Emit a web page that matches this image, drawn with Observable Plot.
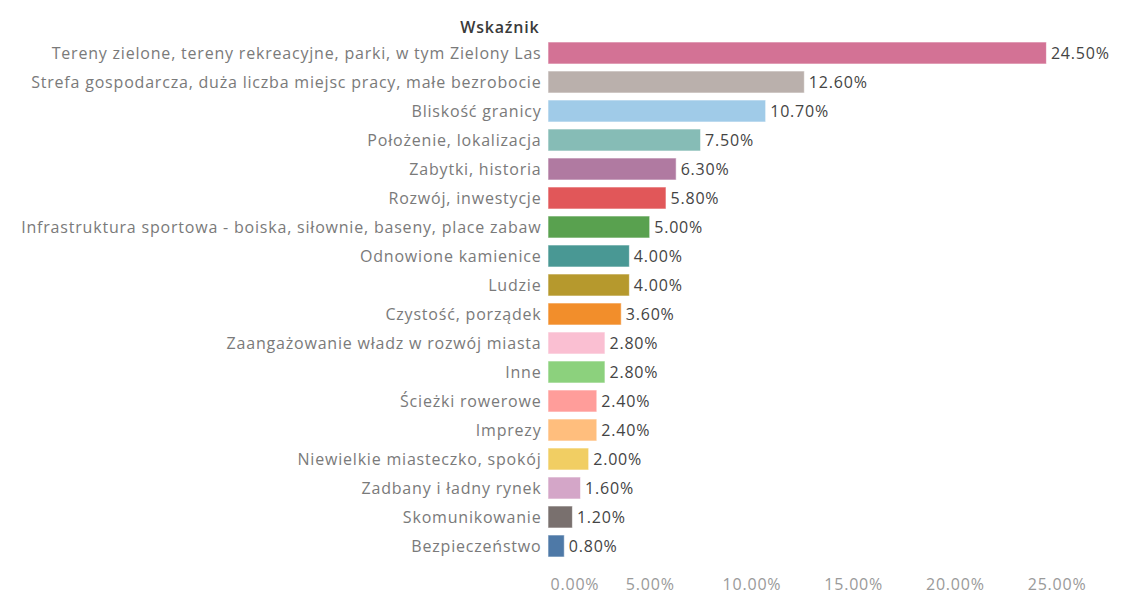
<!DOCTYPE html>
<html>
<head>
<meta charset="utf-8">
<script src="https://cdn.jsdelivr.net/npm/d3@7"></script>
<script src="https://cdn.jsdelivr.net/npm/@observablehq/plot@0.6"></script>
<style>
  html, body { margin: 0; padding: 0; background: #fff; }
  #chart svg { display: block; }
  #chart svg text { letter-spacing: 0.8px; }
</style>
</head>
<body>
<div id="chart"></div>
<script>
const categories = [
  "Tereny zielone, tereny rekreacyjne, parki, w tym Zielony Las",
  "Strefa gospodarcza, duża liczba miejsc pracy, małe bezrobocie",
  "Bliskość granicy",
  "Położenie, lokalizacja",
  "Zabytki, historia",
  "Rozwój, inwestycje",
  "Infrastruktura sportowa - boiska, siłownie, baseny, place zabaw",
  "Odnowione kamienice",
  "Ludzie",
  "Czystość, porządek",
  "Zaangażowanie władz w rozwój miasta",
  "Inne",
  "Ścieżki rowerowe",
  "Imprezy",
  "Niewielkie miasteczko, spokój",
  "Zadbany i ładny rynek",
  "Skomunikowanie",
  "Bezpieczeństwo"
];
const values = [24.5, 12.6, 10.7, 7.5, 6.3, 5.8, 5.0, 4.0, 4.0, 3.6, 2.8, 2.8, 2.4, 2.4, 2.0, 1.6, 1.2, 0.8];
const colors = [
  "#D37295", "#BAB0AC", "#A0CBE8", "#86BCB6", "#B07AA1", "#E15759",
  "#59A14F", "#499894", "#B6992D", "#F28E2B", "#FABFD2", "#8CD17D",
  "#FF9D9A", "#FFBE7D", "#F1CE63", "#D4A6C8", "#79706E", "#4E79A7"
];
const xTicks = [0, 5, 10, 15, 20, 25];
const headerLabel = "Wskaźnik";

const data = categories.map((c, i) => ({category: c, value: values[i]}));
const fmt = v => v.toFixed(2) + "%";
const FONT = "'Open Sans', 'Noto Sans', sans-serif";

const chart = Plot.plot({
  width: 1140,
  height: 595,
  marginLeft: 548,
  marginRight: 0,
  marginTop: 35,
  marginBottom: 32,
  style: {fontFamily: FONT, fontSize: "16px", background: "#fff"},
  x: {domain: [0, 29.1]},
  y: {domain: categories, paddingInner: 0.25, paddingOuter: 0.125},
  color: {domain: categories, range: colors},
  marks: [
    Plot.ruleX(xTicks.slice(1), {y1: 35, y2: 569, stroke: "#ececec", strokeWidth: 1, y: null}),
    Plot.ruleY([0], {frameAnchor: "bottom", stroke: "#ececec"}),
    Plot.ruleX([0], {y1: 35, y2: 569, stroke: "#dedede"}),
    Plot.barX(data, {y: "category", x: "value", fill: "category", stroke: "#fff", strokeOpacity: 0.6, strokeWidth: 1}),
    Plot.text(data, {y: "category", x: "value", text: d => fmt(d.value), textAnchor: "start", dx: 4, fill: "#444", fontSize: 16}),
    Plot.axisY({tickSize: 0, tickPadding: 7, fill: "#7a7a7a", fontSize: 16, label: null}),
    Plot.axisX([0], {tickSize: 0, tickPadding: 15, textAnchor: "start", dx: 2, tickFormat: fmt, fill: "#9a9a9a", fontSize: 16, label: null}),
    Plot.axisX(xTicks.slice(1), {tickSize: 0, tickPadding: 15, tickFormat: fmt, fill: "#9a9a9a", fontSize: 16, label: null}),
    Plot.text([headerLabel], {frameAnchor: "top-left", textAnchor: "end", dx: -9, dy: -14, fontWeight: 600, fill: "#3a3a3a", fontSize: 16})
  ]
});
document.getElementById("chart").appendChild(chart);
</script>
</body>
</html>
